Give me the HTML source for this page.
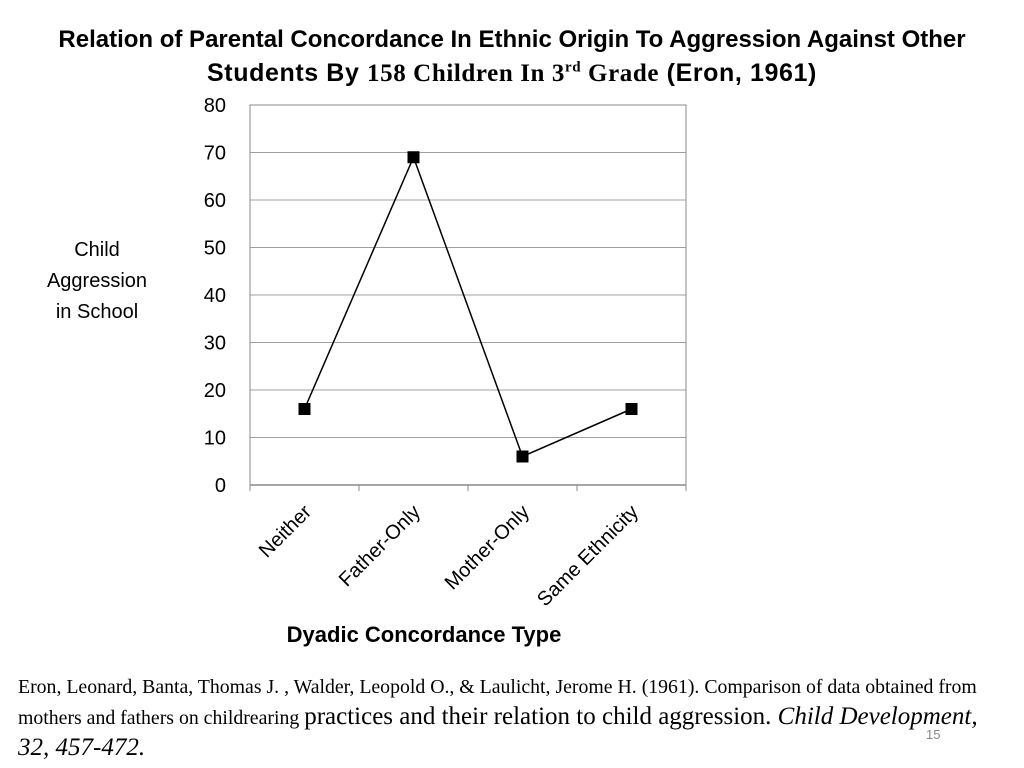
<!DOCTYPE html>
<html><head><meta charset="utf-8"><style>
body{margin:0;width:1024px;height:768px;background:#fff;position:relative;overflow:hidden;font-family:"Liberation Sans",sans-serif}
.t{position:absolute;left:0;width:1024px;text-align:center;font-weight:bold;font-size:24px;letter-spacing:0px;color:#000;white-space:nowrap}
.ref{position:absolute;left:18px;top:673px;width:1000px;font-family:"Liberation Serif",serif;font-size:19.8px;line-height:29px;color:#000;white-space:nowrap}
.big{font-size:25px}
</style></head><body>
<div class="t" style="top:26px">Relation of Parental Concordance In Ethnic Origin To Aggression Against Other</div>
<div class="t" style="top:59px;font-size:25px;letter-spacing:0.6px">Students By <span style="font-family:'Liberation Serif',serif;font-size:25px">158 Children In 3<sup style="font-size:15px">rd</sup> Grade</span> (Eron, 1961)</div>
<svg id="c" width="1024" height="768" style="position:absolute;left:0;top:0"></svg>
<div class="ref">Eron, Leonard, Banta, Thomas J. , Walder, Leopold O., &amp; Laulicht, Jerome H. (1961). Comparison of data obtained from<br>mothers and fathers on childrearing <span class="big">practices and their relation to child aggression. <i>Child Development,</i></span><br><i class="big">32, 457-472.</i></div>
<div style="position:absolute;left:926px;top:727px;font-size:13px;color:#888">15</div>
<script>
const categories=["Neither","Father-Only","Mother-Only","Same Ethnicity"];
const values=[16,69,6,16];
const yTicks=[0,10,20,30,40,50,60,70,80];
const NS="http://www.w3.org/2000/svg";
const svg=document.getElementById('c');
const L=250,R=686,T=105,B=485,ymax=80;
const bw=(R-L)/categories.length;
const x=i=>L+bw*(i+0.5);
const y=v=>B-(v/ymax)*(B-T);
function mk(t,a,p){const e=document.createElementNS(NS,t);for(const k in a)e.setAttribute(k,a[k]);(p||svg).appendChild(e);return e;}
yTicks.forEach(v=>{
 if(v>0&&v<ymax){const g=mk('line',{x1:L,x2:R,y1:y(v),y2:y(v),stroke:'#a0a0a0','stroke-width':1});
 
 }
 const t=mk('text',{x:226,y:y(v)+7,'text-anchor':'end','font-size':20,'font-family':'Liberation Sans, sans-serif'});
 t.textContent=v;
 
 
});
const frame=mk('rect',{x:L,y:T,width:R-L,height:B-T,fill:'none',stroke:'#888','stroke-width':1});


const ax=mk('line',{x1:L,x2:R,y1:B,y2:B,stroke:'#888','stroke-width':1.5});


for(let i=0;i<=categories.length;i++){const tk=mk('line',{x1:L+bw*i,x2:L+bw*i,y1:B,y2:B+6,stroke:'#888'});
 
 }
categories.forEach((c,i)=>{
 const t=mk('text',{x:0,y:0,'text-anchor':'end','font-size':20,'font-family':'Liberation Sans, sans-serif',transform:`translate(${x(i)+8},${B+28}) rotate(-45)`});
 t.textContent=c;
 
 
});
const pl=mk('polyline',{points:values.map((v,i)=>x(i)+','+y(v)).join(' '),fill:'none',stroke:'#000','stroke-width':1.5});


values.forEach((v,i)=>{const m=mk('rect',{x:x(i)-6,y:y(v)-6,width:12,height:12,fill:'#000'});
 
 });
const yt=mk('text',{x:97,y:256,'text-anchor':'middle','font-size':20,'font-family':'Liberation Sans, sans-serif'});


["Child","Aggression","in School"].forEach((s,i)=>{const ts=mk('tspan',{x:97,dy:i?31:0},yt);ts.textContent=s;});
const xt=mk('text',{x:424,y:642,'text-anchor':'middle','font-size':22,'font-weight':'bold','font-family':'Liberation Sans, sans-serif'});
xt.textContent="Dyadic Concordance Type";


</script>
</body></html>
